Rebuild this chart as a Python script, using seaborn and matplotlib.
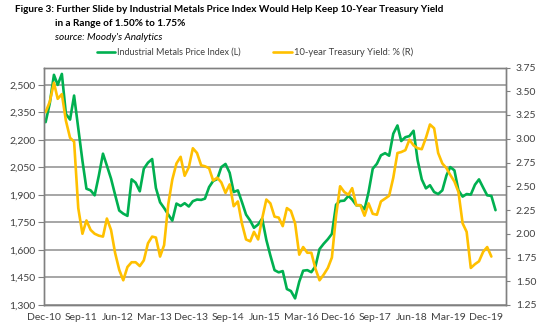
import numpy as np
import pandas as pd
import matplotlib
matplotlib.use("Agg")
import matplotlib.pyplot as plt
import matplotlib.dates as mdates
from matplotlib.lines import Line2D
import seaborn as sns

# ---- data (monthly) ----
metals = [2297, 2400, 2555, 2500, 2560, 2342, 2311, 2442, 2264, 2087,
          1934, 1925, 1898, 2005, 2125, 2060, 1989, 1902, 1815, 1798,
          1786, 1985, 1967, 1920, 2043, 2076, 2096, 1938, 1860, 1829,
          1793, 1760, 1853, 1840, 1855, 1837, 1866, 1875, 1873, 1880,
          1943, 1976, 1987, 2052, 2069, 2021, 1916, 1925, 1862, 1793,
          1760, 1721, 1739, 1771, 1655, 1570, 1490, 1478, 1485, 1387,
          1376, 1336, 1427, 1487, 1490, 1479, 1512, 1605, 1634, 1659,
          1688, 1847, 1867, 1869, 1895, 1875, 1844, 1844, 1822, 1916,
          2043, 2070, 2116, 2128, 2114, 2234, 2279, 2194, 2215, 2221,
          2250, 2090, 1985, 1936, 1953, 1916, 1905, 1925, 2007, 2052,
          2034, 1925, 1891, 1905, 1902, 1956, 1985, 1940, 1898, 1895,
          1817]
yields = [3.28, 3.39, 3.59, 3.42, 3.47, 3.19, 3.01, 2.97, 2.27, 2.00,
          2.14, 2.04, 2.00, 1.98, 1.97, 2.16, 2.04, 1.80, 1.62, 1.51,
          1.65, 1.70, 1.70, 1.66, 1.72, 1.90, 1.97, 1.96, 1.76, 1.88,
          2.31, 2.57, 2.74, 2.81, 2.61, 2.70, 2.90, 2.85, 2.72, 2.71,
          2.69, 2.56, 2.59, 2.54, 2.43, 2.52, 2.29, 2.34, 2.11, 1.94,
          1.92, 2.02, 1.94, 2.16, 2.36, 2.32, 2.18, 2.17, 2.08, 2.27,
          2.24, 2.11, 1.78, 1.86, 1.80, 1.80, 1.63, 1.51, 1.57, 1.64,
          1.75, 2.19, 2.50, 2.44, 2.41, 2.48, 2.30, 2.30, 2.19, 2.32,
          2.21, 2.20, 2.34, 2.37, 2.40, 2.59, 2.85, 2.86, 2.88, 2.99,
          2.93, 2.90, 2.89, 3.01, 3.15, 3.11, 2.85, 2.74, 2.69, 2.62,
          2.55, 2.44, 2.11, 2.02, 1.64, 1.68, 1.71, 1.81, 1.86, 1.76]
x_tick_labels = ["Dec-10", "Sep-11", "Jun-12", "Mar-13", "Dec-13", "Sep-14", "Jun-15",
                 "Mar-16", "Dec-16", "Sep-17", "Jun-18", "Mar-19", "Dec-19"]
left_ticks = [1300, 1450, 1600, 1750, 1900, 2050, 2200, 2350, 2500]
right_ticks = [1.25, 1.50, 1.75, 2.00, 2.25, 2.50, 2.75, 3.00, 3.25, 3.50, 3.75]

series_names = ["Industrial Metals Price Index (L)", "10-year Treasury Yield: % (R)"]
title_line1 = "Figure 3: Further Slide by Industrial Metals Price Index Would Help Keep 10-Year Treasury Yield"
title_line2 = "in a Range of 1.50% to 1.75%"
source_text = "source: Moody's Analytics"

GREEN = "#00B050"
YELLOW = "#FFC000"
GRID = "#A6A6A6"
SPINE = "#808080"
TXT = "#404040"

start = pd.Timestamp("2010-12-01")
dates_m = pd.date_range(start, periods=len(metals), freq="MS") + pd.Timedelta(days=12)
dates_y = pd.date_range(start, periods=len(yields), freq="MS") + pd.Timedelta(days=12)
df_m = pd.DataFrame({"date": dates_m, "value": metals})
df_y = pd.DataFrame({"date": dates_y, "value": yields})
tick_dates = pd.date_range(start, periods=len(x_tick_labels), freq="9MS")

sns.set_style("white")
FONT = ["Lato", "DejaVu Sans"]
plt.rcParams["font.family"] = FONT

W, H = 550, 333
fig = plt.figure(figsize=(5.5, 3.33), dpi=100)
ax = fig.add_axes([44 / W, 1 - 305 / H, 462 / W, 237.5 / H])
ax2 = ax.twinx()

sns.lineplot(data=df_m, x="date", y="value", ax=ax, color=GREEN, linewidth=1.9,
             legend=False)
sns.lineplot(data=df_y, x="date", y="value", ax=ax2, color=YELLOW, linewidth=1.9,
             legend=False)

ax.set_ylim(1300, 2595)
ax.set_yticks(left_ticks)
ax.set_yticklabels([f"{v:,}" for v in left_ticks])
ax2.set_ylim(1.25, 3.75)
ax2.set_yticks(right_ticks)
ax2.set_yticklabels([f"{v:.2f}" for v in right_ticks])
ax.set_xlim(start, pd.Timestamp("2020-05-01"))
ax.set_xticks(tick_dates)
ax.set_xticklabels(x_tick_labels)
ax.set_xlabel("")
ax.set_ylabel("")
ax2.set_ylabel("")

ax.grid(axis="y", color=GRID, linewidth=1.4)
ax.set_axisbelow(True)
for a in (ax, ax2):
    for s in a.spines.values():
        s.set_color(SPINE)
        s.set_linewidth(1.0)
ax.tick_params(axis="both", colors=TXT, labelsize=7.5, length=3, width=0.8,
               color=SPINE, pad=3)
ax2.tick_params(axis="y", colors=TXT, labelsize=7.5, length=3, width=0.8,
                color=SPINE, pad=4)
ax.tick_params(axis="y", length=4, pad=2)

fig.canvas.draw()
renderer = fig.canvas.get_renderer()


def fit_text(x_px, y_px, s, target_w, size0, **kw):
    t = fig.text(x_px / W, 1 - y_px / H, s, fontsize=size0, ha="left", va="center", **kw)
    w = t.get_window_extent(renderer).width
    t.set_fontsize(size0 * target_w / w)
    return t


# legend: line samples + texts
leg_y = 52
fig.add_artist(Line2D([97 / W, 115 / W], [1 - leg_y / H] * 2, color=GREEN, lw=1.9))
fit_text(117, leg_y, series_names[0], 124, 7.5, color=TXT)
fig.add_artist(Line2D([273 / W, 292 / W], [1 - leg_y / H] * 2, color=YELLOW, lw=1.9))
fit_text(294, leg_y, series_names[1], 119, 7.5, color=TXT)

# titles
t1 = fit_text(15, 10, title_line1, 427, 8.2, fontweight="bold", color="#000000")
fs = t1.get_fontsize()
fig.text(55 / W, 1 - 24 / H, title_line2, fontsize=fs, fontweight="bold",
         ha="left", va="center", color="#000000")
fig.text(55 / W, 1 - 38 / H, source_text, fontsize=fs, style="italic",
         ha="left", va="center", color="#000000")

fig.savefig("out.png", dpi=100)
